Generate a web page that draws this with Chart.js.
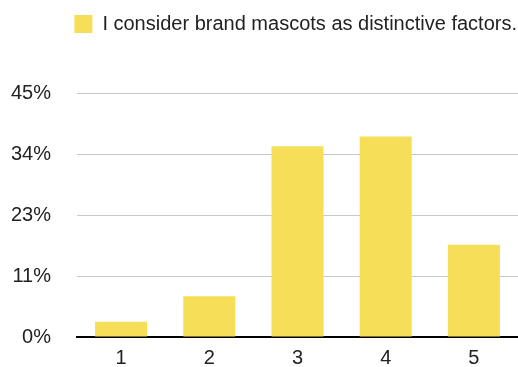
<!DOCTYPE html>
<html>
<head>
<meta charset="utf-8">
<script src="https://cdn.jsdelivr.net/npm/chart.js@4"></script>
<style>
  html,body{margin:0;padding:0;background:#fff;}
  #wrap{width:518px;height:367px;position:relative;}
</style>
</head>
<body>
<div id="wrap"><canvas id="mascotChart"></canvas></div>
<script>
const categories=["1","2","3","4","5"];
const shares=[2.8,7.5,35.2,37.0,17.0];
const seriesLabel="I consider brand mascots as distinctive factors.";
const yTickValues=[0,11.25,22.5,33.75,45];
const yTickLabels=["0%","11%","23%","34%","45%"];

const FONT="'Liberation Sans', Arial, Helvetica, sans-serif";
Chart.defaults.font.family=FONT;
Chart.defaults.color="#222";

// leave a wide gap between the legend row and the plot
const legendGap={
    id:"legendGap",
    beforeInit(chart){
        const fit=chart.legend.fit;
        chart.legend.fit=function(){
            fit.call(this);
            this.height=80;
        };
    }
};

new Chart(document.getElementById("mascotChart"),{
    type:"bar",
    data:{
        labels:categories,
        datasets:[{
            label:seriesLabel,
            data:shares,
            backgroundColor:"#f7de58",
            borderWidth:0,
            barPercentage:0.59,
            categoryPercentage:1
        }]
    },
    plugins:[legendGap],
    options:{
        responsive:true,
        maintainAspectRatio:false,
        animation:false,
        layout:{padding:{left:11,right:0,top:13,bottom:0}},
        plugins:{
            tooltip:{enabled:false},
            legend:{
                position:"top",
                align:"end",
                labels:{
                    boxWidth:18,
                    boxHeight:18,
                    padding:1,
                    color:"#222",
                    font:{size:20}
                }
            }
        },
        scales:{
            x:{
                grid:{display:false,drawTicks:false},
                border:{display:true,color:"#000",width:2},
                afterFit:(axis)=>{axis.height=30;},
                ticks:{padding:9,font:{size:20},color:"#222"}
            },
            y:{
                min:0,
                max:45,
                border:{display:false},
                grid:{color:"#c8c8c8",lineWidth:1,drawTicks:false},
                afterBuildTicks:(axis)=>{
                    axis.ticks=yTickValues.map(v=>({value:v}));
                },
                afterFit:(axis)=>{
                    // the wide label gap should not push the plot in from top/bottom
                    axis.width=66;
                    axis.paddingTop=12;
                    axis.paddingBottom=12;
                },
                ticks:{
                    padding:26,
                    font:{size:20},
                    color:"#222",
                    callback:(v,i)=>yTickLabels[i]
                }
            }
        }
    }
});
</script>
</body>
</html>
